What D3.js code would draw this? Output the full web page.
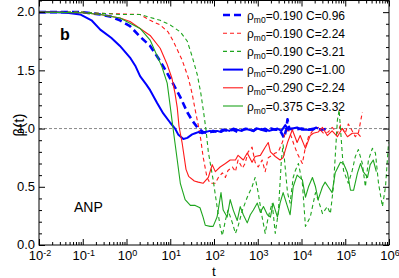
<!DOCTYPE html>
<html>
<head>
<meta charset="utf-8">
<script src="https://cdn.jsdelivr.net/npm/d3@7"></script>
<style>
  body { margin: 0; background: #fff; }
  svg { display: block; font-family: "Liberation Sans", Arial, sans-serif; }
</style>
</head>
<body>
<svg id="chart" width="399" height="278"></svg>
<script>
// each series: [log10(t), beta]
const blueDashed = [[-2,2.0],[-1.0,2.0],[-0.6,1.98],[-0.35,1.96],[-0.15,1.93],[0.08,1.88],[0.31,1.79],[0.54,1.71],[0.77,1.58],[1.0,1.43],[1.23,1.27],[1.39,1.14],[1.50,1.07],[1.64,1.0],[1.75,0.97],[1.87,0.96],[1.98,0.98],[2.1,0.97],[2.21,0.99],[2.32,0.98],[2.44,0.99],[2.55,0.97],[2.67,0.99],[2.78,1.0],[2.90,0.98],[3.0,1.01],[3.1,0.99],[3.2,0.98],[3.3,1.0],[3.4,0.99],[3.5,0.99],[3.56,0.95],[3.6,0.92],[3.65,0.99],[3.68,1.08],[3.72,1.0],[3.85,0.99],[4.0,1.0],[4.15,0.99],[4.3,1.0],[4.45,0.99],[4.6,1.0]];
const redDashed = [[-2,2.0],[-1,2.0],[-0.6,1.99],[0.31,1.98],[0.54,1.93],[0.77,1.89],[0.95,1.83],[1.07,1.75],[1.27,1.59],[1.41,1.44],[1.50,1.30],[1.57,1.16],[1.64,1.03],[1.70,0.90],[1.75,0.76],[1.84,0.58],[1.91,0.53],[2.03,0.53],[2.10,0.58],[2.19,0.62],[2.26,0.58],[2.32,0.64],[2.42,0.67],[2.49,0.63],[2.55,0.73],[2.65,0.66],[2.71,0.70],[2.78,0.80],[2.87,0.84],[2.94,0.71],[3.01,0.67],[3.10,0.73],[3.17,0.63],[3.24,0.75],[3.33,0.77],[3.40,0.79],[3.47,0.80],[3.56,0.88],[3.63,0.96],[3.70,0.99],[3.79,0.91],[3.81,0.88],[3.90,0.79],[4.02,0.70],[4.09,0.84],[4.16,0.93],[4.27,0.99],[4.38,1.01],[4.50,0.96],[4.61,0.97],[4.70,1.01],[4.82,0.96],[4.89,1.03],[5.00,0.96],[5.07,1.04],[5.16,0.98],[5.23,0.93],[5.30,0.96],[5.39,1.14]];
const greenDashed = [[-2,2.0],[-1,2.0],[-0.6,1.99],[-0.15,1.98],[0.31,1.98],[0.77,1.93],[1.0,1.89],[1.23,1.83],[1.39,1.75],[1.50,1.62],[1.62,1.46],[1.70,1.30],[1.77,1.12],[1.82,0.98],[1.87,0.80],[1.98,0.56],[2.07,0.33],[2.14,0.16],[2.19,0.08],[2.26,0.21],[2.32,0.30],[2.42,0.19],[2.49,0.10],[2.55,0.16],[2.65,0.30],[2.76,0.41],[2.87,0.50],[2.94,0.58],[3.01,0.45],[3.10,0.24],[3.17,0.10],[3.24,0.24],[3.33,0.36],[3.40,0.10],[3.47,0.28],[3.54,0.73],[3.58,0.86],[3.68,0.45],[3.74,0.36],[3.81,0.58],[3.86,0.64],[3.93,0.70],[4.02,0.53],[4.09,0.16],[4.20,0.24],[4.32,0.45],[4.38,0.39],[4.48,0.27],[4.59,0.33],[4.66,0.27],[4.73,0.50],[4.82,1.07],[4.86,1.16],[4.96,0.64],[5.07,0.53],[5.16,0.64],[5.23,0.76],[5.30,0.82],[5.39,0.70],[5.46,0.50],[5.53,0.73],[5.62,0.83],[5.69,0.79],[5.76,0.53],[5.85,0.33],[5.92,0.50],[5.99,0.88]];
const blueSolid = [[-2,2.0],[-1.6,2.0],[-1.36,1.995],[-1.06,1.98],[-0.8,1.93],[-0.6,1.85],[-0.35,1.78],[-0.15,1.71],[0.08,1.61],[0.2,1.54],[0.31,1.45],[0.45,1.38],[0.54,1.33],[0.70,1.22],[0.84,1.13],[1.0,1.05],[1.11,1.0],[1.18,0.95],[1.30,0.91],[1.39,0.92],[1.50,0.95],[1.57,0.96],[1.64,0.97],[1.73,0.96],[1.80,0.97],[1.91,0.98],[1.98,0.97],[2.07,0.98],[2.16,0.97],[2.26,0.99],[2.35,0.98],[2.44,1.0],[2.53,0.99],[2.62,0.98],[2.71,1.0],[2.80,0.99],[2.90,0.98],[2.99,1.0],[3.08,0.99],[3.17,1.0],[3.26,0.98],[3.35,0.99],[3.45,1.0],[3.54,0.98],[3.63,1.03],[3.70,0.99],[3.79,1.0],[3.90,1.01],[4.0,0.99],[4.09,0.99],[4.18,0.99],[4.27,0.99],[4.33,1.01],[4.38,1.0]];
const redSolid = [[-2,2.0],[-1,1.995],[-0.6,1.98],[-0.15,1.95],[0.08,1.92],[0.31,1.86],[0.54,1.80],[0.77,1.69],[0.93,1.55],[1.04,1.43],[1.11,1.30],[1.16,1.18],[1.20,1.02],[1.27,0.88],[1.36,0.65],[1.42,0.59],[1.55,0.55],[1.64,0.54],[1.75,0.53],[1.87,0.58],[1.96,0.69],[2.03,0.63],[2.14,0.67],[2.26,0.70],[2.37,0.73],[2.49,0.73],[2.55,0.77],[2.67,0.73],[2.76,0.79],[2.87,0.71],[2.94,0.76],[3.06,0.77],[3.17,0.84],[3.24,0.88],[3.29,0.80],[3.40,0.76],[3.51,0.73],[3.58,0.75],[3.68,0.88],[3.79,0.99],[3.90,0.88],[3.97,0.94],[4.09,0.83],[4.20,0.94],[4.27,0.96],[4.38,0.97],[4.48,1.01],[4.59,0.94],[4.70,0.98],[4.82,0.93],[4.93,1.0],[5.05,0.93],[5.16,0.96],[5.28,0.96],[5.35,0.93]];
const greenSolid = [[-2,2.0],[-1,1.995],[-0.6,1.98],[-0.15,1.95],[0.31,1.86],[0.54,1.76],[0.61,1.70],[0.81,1.53],[0.93,1.39],[1.0,1.19],[1.04,1.07],[1.10,0.90],[1.16,0.73],[1.23,0.53],[1.34,0.39],[1.46,0.34],[1.57,0.34],[1.68,0.32],[1.75,0.24],[1.80,0.17],[1.91,0.16],[1.98,0.16],[2.07,0.24],[2.16,0.45],[2.21,0.30],[2.30,0.24],[2.37,0.39],[2.44,0.30],[2.53,0.21],[2.60,0.33],[2.67,0.26],[2.76,0.19],[2.83,0.26],[2.90,0.30],[2.99,0.36],[3.06,0.28],[3.13,0.33],[3.22,0.26],[3.29,0.24],[3.35,0.36],[3.45,0.24],[3.51,0.36],[3.58,0.45],[3.68,0.33],[3.74,0.26],[3.81,0.50],[3.90,0.60],[4.02,0.56],[4.09,0.41],[4.16,0.50],[4.25,0.58],[4.32,0.50],[4.38,0.39],[4.48,0.50],[4.54,0.54],[4.61,0.50],[4.70,0.45],[4.77,0.62],[4.89,0.71],[4.96,0.70],[5.05,0.62],[5.12,0.47],[5.19,0.47],[5.28,0.62],[5.35,0.70],[5.41,0.63],[5.51,0.58],[5.57,0.69],[5.64,0.73],[5.71,0.63]];

const rhoValues = ["0.190", "0.190", "0.190", "0.290", "0.290", "0.375"];
const cValues = ["0.96", "2.24", "3.21", "1.00", "2.24", "3.32"];
const yTicks = [0, 0.5, 1.0, 1.5, 2.0];
const xDecades = [-2, -1, 0, 1, 2, 3, 4, 5, 6];

const BLUE = "#0000ff", RED = "#ff1a1a", GREEN = "#1ea51e";
const series = [
    { data: blueDashed, color: BLUE, width: 2.6, dash: "7,4" },
    { data: redDashed, color: RED, width: 1.1, dash: "4,3" },
    { data: greenDashed, color: GREEN, width: 1.1, dash: "4,3" },
    { data: blueSolid, color: BLUE, width: 2, dash: null },
    { data: redSolid, color: RED, width: 1.1, dash: null },
    { data: greenSolid, color: GREEN, width: 1.1, dash: null }
];

const svg = d3.select("#chart");
const plotLeft = 39, plotRight = 389, plotTop = 0.5, plotBottom = 245;

const x = d3.scaleLog().domain([1e-2, 1e6]).range([plotLeft, plotRight]);
const y = d3.scaleLinear().domain([0, 2.1]).range([plotBottom, plotTop]);

const majorX = xDecades.map((e) => Math.pow(10, e));
const minorX = [];
xDecades.slice(0, -1).forEach((e) => {
    for (let k = 2; k <= 9; k++) minorX.push(k * Math.pow(10, e));
});
const minorY = d3.range(0, 2.11, 0.1).filter((v) => Math.abs(v * 2 - Math.round(v * 2)) > 1e-6);

// reference line beta = 1
svg.append("line")
    .attr("x1", plotLeft).attr("x2", plotRight)
    .attr("y1", y(1)).attr("y2", y(1))
    .attr("stroke", "#888").attr("stroke-width", 1)
    .attr("stroke-dasharray", "3,2");

const line = d3.line()
    .x((d) => x(Math.pow(10, d[0])))
    .y((d) => y(d[1]));

const plot = svg.append("g");
series.forEach((s) => {
    plot.append("path")
        .attr("d", line(s.data))
        .attr("fill", "none")
        .attr("stroke", s.color)
        .attr("stroke-width", s.width)
        .attr("stroke-dasharray", s.dash)
        .attr("stroke-linejoin", "round");
});

// axes with inward ticks on all four sides
function styleAxis(g) {
    g.select(".domain").remove();
    g.selectAll("line").attr("stroke", "#000");
}
svg.append("g").attr("transform", `translate(0,${plotBottom})`)
    .call(d3.axisBottom(x).tickValues(majorX).tickSize(-6).tickFormat(""))
    .call(styleAxis);
svg.append("g").attr("transform", `translate(0,${plotBottom})`)
    .call(d3.axisBottom(x).tickValues(minorX).tickSize(-3).tickFormat(""))
    .call(styleAxis);
svg.append("g").attr("transform", `translate(0,${plotTop})`)
    .call(d3.axisTop(x).tickValues(majorX).tickSize(-6).tickFormat(""))
    .call(styleAxis);
svg.append("g").attr("transform", `translate(0,${plotTop})`)
    .call(d3.axisTop(x).tickValues(minorX).tickSize(-3).tickFormat(""))
    .call(styleAxis);
svg.append("g").attr("transform", `translate(${plotLeft},0)`)
    .call(d3.axisLeft(y).tickValues(yTicks).tickSize(-6).tickFormat(""))
    .call(styleAxis);
svg.append("g").attr("transform", `translate(${plotLeft},0)`)
    .call(d3.axisLeft(y).tickValues(minorY).tickSize(-3).tickFormat(""))
    .call(styleAxis);
svg.append("g").attr("transform", `translate(${plotRight},0)`)
    .call(d3.axisRight(y).tickValues(yTicks).tickSize(-6).tickFormat(""))
    .call(styleAxis);
svg.append("g").attr("transform", `translate(${plotRight},0)`)
    .call(d3.axisRight(y).tickValues(minorY).tickSize(-3).tickFormat(""))
    .call(styleAxis);

svg.append("rect")
    .attr("x", plotLeft).attr("y", plotTop)
    .attr("width", plotRight - plotLeft).attr("height", plotBottom - plotTop)
    .attr("fill", "none").attr("stroke", "#000").attr("stroke-width", 1);

// tick labels
svg.append("g").selectAll("text").data(yTicks).join("text")
    .attr("x", plotLeft - 4).attr("y", (d) => y(d)).attr("dy", "0.33em")
    .attr("text-anchor", "end").attr("font-size", 13)
    .text((d) => d.toFixed(1));

const xl = svg.append("g").selectAll("text").data(xDecades).join("text")
    .attr("x", (d) => x(Math.pow(10, d)) + 1).attr("y", 260)
    .attr("text-anchor", "middle").attr("font-size", 13);
xl.append("tspan").text("10");
xl.append("tspan").attr("font-size", 9).attr("dy", -4).text((d) => d);

svg.append("text").attr("x", 214).attr("y", 276)
    .attr("text-anchor", "middle").attr("font-size", 13.5).text("t");

svg.append("text")
    .attr("transform", `translate(24,${125}) rotate(-90)`)
    .attr("text-anchor", "middle").attr("font-size", 15).text("β(t)");

svg.append("text").attr("x", 60).attr("y", 40)
    .attr("font-size", 16).attr("font-weight", "bold").text("b");
svg.append("text").attr("x", 74).attr("y", 212)
    .attr("font-size", 14).text("ANP");

// legend
const legend = svg.append("g");
series.forEach((s, i) => {
    const ly = 15 + i * 18.2;
    legend.append("line")
        .attr("x1", 223).attr("x2", 243).attr("y1", ly).attr("y2", ly)
        .attr("stroke", s.color).attr("stroke-width", s.width)
        .attr("stroke-dasharray", s.dash);
    const t = legend.append("text").attr("x", 247).attr("y", ly + 4.5).attr("font-size", 12);
    t.append("tspan").text("ρ");
    t.append("tspan").attr("font-size", 8.5).attr("dy", 3).text("m0");
    t.append("tspan").attr("dy", -3).text(`=${rhoValues[i]} C=${cValues[i]}`);
});
</script>
</body>
</html>
